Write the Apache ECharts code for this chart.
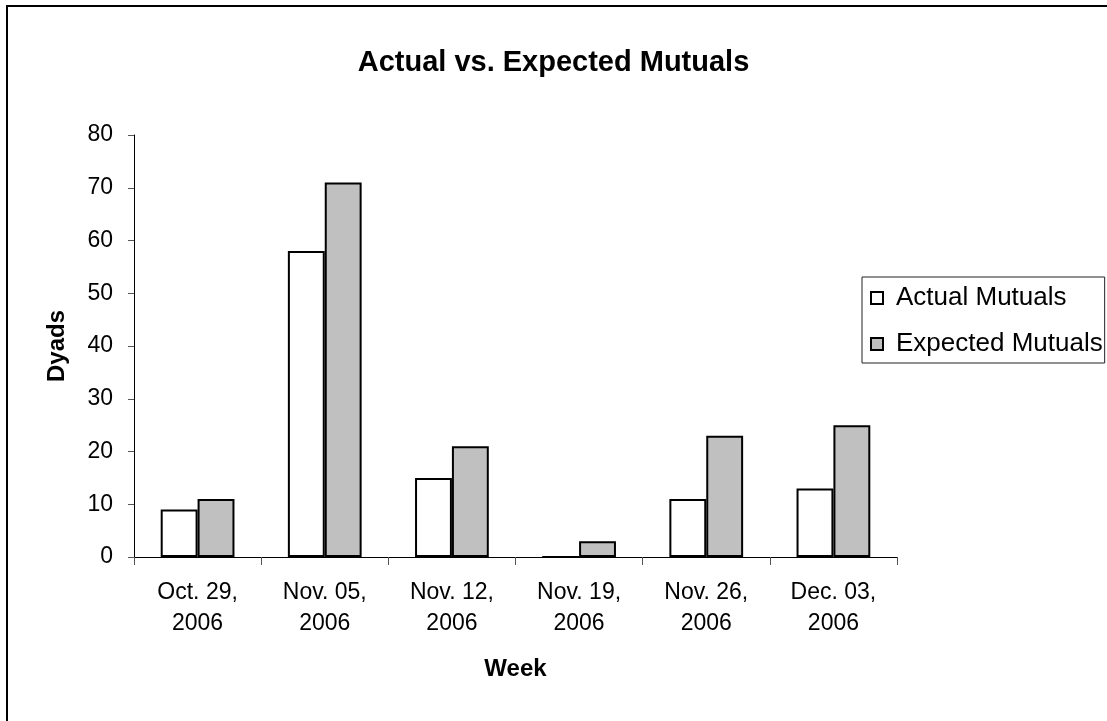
<!DOCTYPE html>
<html>
<head>
<meta charset="utf-8">
<script src="https://cdn.jsdelivr.net/npm/echarts@6/dist/echarts.min.js"></script>
<style>
html,body{margin:0;padding:0;background:#fff;}
#chart{width:1107px;height:721px;}
</style>
</head>
<body>
<div id="chart"></div>
<script>
var categories = ['Oct. 29,\n2006','Nov. 05,\n2006','Nov. 12,\n2006','Nov. 19,\n2006','Nov. 26,\n2006','Dec. 03,\n2006'];
var actualMutuals = [9, 58, 15, 0, 11, 13];
var expectedMutuals = [11, 71, 21, 3, 23, 25];
var seriesNames = ['Actual Mutuals','Expected Mutuals'];

var chart = echarts.init(document.getElementById('chart'), null, {renderer:'canvas'});
var font = 'Liberation Sans, Arial, sans-serif';
chart.setOption({
  animation:false,
  backgroundColor:'#fff',
  title:{
    text:'Actual vs. Expected Mutuals',
    left:'center', top:43,
    textStyle:{fontFamily:font, fontWeight:'bold', fontSize:29, color:'#000'}
  },
  graphic:[{
    type:'rect', shape:{x:7, y:6, width:1200, height:800},
    style:{fill:'none', stroke:'#000', lineWidth:2}, silent:true
  }],
  legend:{
    orient:'vertical', left:862, top:277,
    itemWidth:12, itemHeight:12, itemGap:20,
    padding:[8,2,6,8],
    borderColor:'#222', borderWidth:1,
    icon:'rect',
    textStyle:{fontFamily:font, fontSize:26, color:'#000', padding:[0,0,0,8]},
    data:seriesNames
  },
  grid:{left:134, right:210, top:135, bottom:164},
  xAxis:{
    type:'category', data:categories,
    name:'Week', nameLocation:'middle', nameGap:100,
    nameTextStyle:{fontFamily:font, fontWeight:'bold', fontSize:24, color:'#000'},
    axisLine:{lineStyle:{color:'#000', width:1}},
    axisTick:{show:true, length:8, lineStyle:{color:'#555'}},
    axisLabel:{fontFamily:font, fontSize:23, color:'#000', margin:20, lineHeight:31}
  },
  yAxis:{
    type:'value', min:0, max:80, interval:10,
    name:'Dyads', nameLocation:'middle', nameGap:65, nameRotate:90,
    nameTextStyle:{fontFamily:font, fontWeight:'bold', fontSize:24, color:'#000'},
    axisLine:{show:true, lineStyle:{color:'#000', width:1}},
    axisTick:{show:true, length:6, lineStyle:{color:'#555'}},
    splitLine:{show:false},
    axisLabel:{fontFamily:font, fontSize:23, color:'#000', margin:21}
  },
  series:[
    {name:seriesNames[0], type:'bar', data:actualMutuals, barGap:'0%', barCategoryGap:'42%',
     itemStyle:{color:'#ffffff', borderColor:'#000', borderWidth:2}},
    {name:seriesNames[1], type:'bar', data:expectedMutuals, barGap:'0%', barCategoryGap:'42%',
     itemStyle:{color:'#c0c0c0', borderColor:'#000', borderWidth:2}}
  ]
});
</script>
</body>
</html>
